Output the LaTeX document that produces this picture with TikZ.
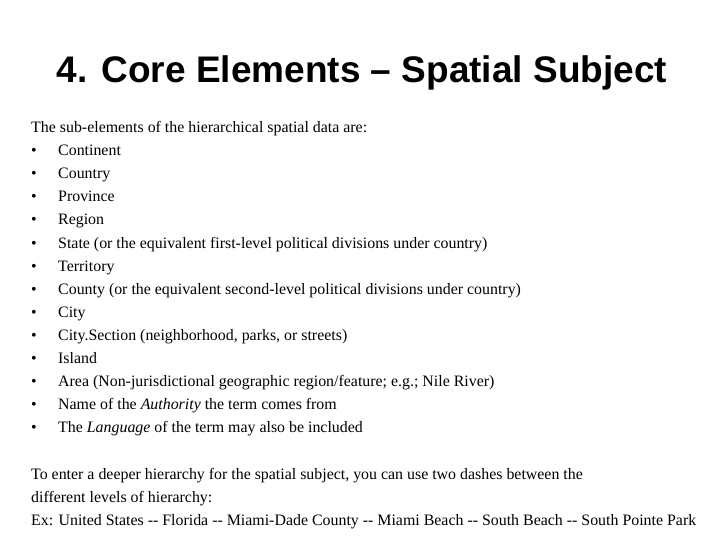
\documentclass[tikz,border=0pt]{standalone}
\usepackage{fontspec}
\setmainfont{Liberation Serif}
\newfontfamily\titlefont{Liberation Sans}
\begin{document}
\begin{tikzpicture}[x=1pt,y=-1pt,
  txt/.style={anchor=base west,inner sep=0pt,font=\fontsize{15.9}{18}\selectfont},
  ttl/.style={anchor=base,inner sep=0pt,font=\titlefont\bfseries\fontsize{37}{40}\selectfont}]
\useasboundingbox[fill=white] (0,0) rectangle (720,540);
\node[ttl] (title) at (362,83) {4. Core Elements – Spatial Subject};
\node[txt] (intro) at (31,133) {The sub-elements of the hierarchical spatial data are:};
\foreach \t [count=\i] in {Continent,Country,Province,Region,
  State (or the equivalent first-level political divisions under country),
  Territory,
  County (or the equivalent second-level political divisions under country),
  City,
  City.Section (neighborhood{,} parks{,} or streets),
  Island,
  Area (Non-jurisdictional geographic region/feature; e.g.; Nile River),
  Name of the \textit{Authority} the term comes from,
  The \textit{Language} of the term may also be included}{
  \node[txt] (b\i) at (31,{133+23*\i}) {\textbullet};
  \node[txt] (t\i) at (58,{133+23*\i}) {\t};
}
\node[txt] (p1) at (31,479) {To enter a deeper hierarchy for the spatial subject, you can use two dashes between the};
\node[txt] (p2) at (31,502) {different levels of hierarchy:};
\node[txt] (p3) at (31,525) {Ex: United States -{}- Florida -{}- Miami-Dade County -{}- Miami Beach -{}- South Beach -{}- South Pointe Park};
\end{tikzpicture}
\end{document}
